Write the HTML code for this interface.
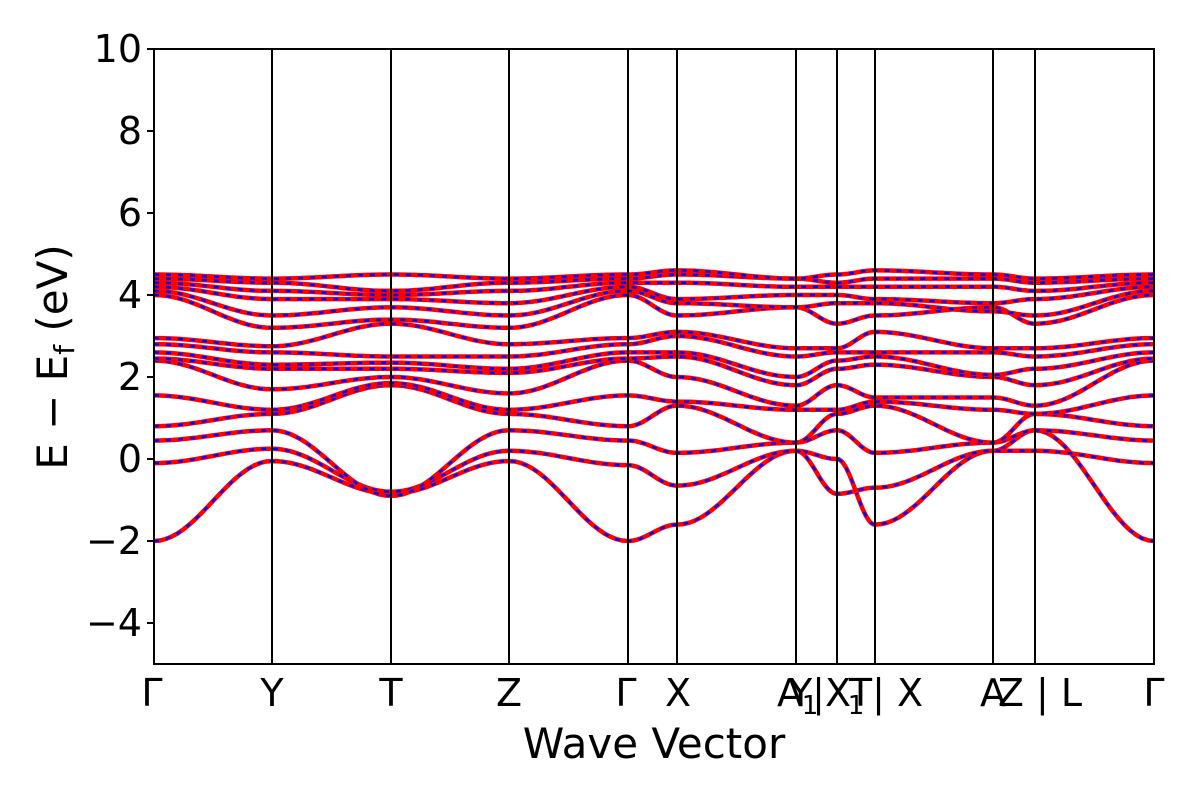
<!DOCTYPE html>
<html><head><meta charset="utf-8"><style>
body{margin:0;background:#fff}
svg{display:block}
text{font-family:"DejaVu Sans","Liberation Sans",sans-serif;fill:#000}
</style></head><body>
<svg id="s" width="1200" height="800" xmlns="http://www.w3.org/2000/svg">
<g id="bands"></g>
<g stroke="#000" stroke-width="2" fill="none">
<rect x="154" y="49" width="1000" height="615"/>
<line x1="272" y1="49" x2="272" y2="664"/>
<line x1="391" y1="49" x2="391" y2="664"/>
<line x1="509" y1="49" x2="509" y2="664"/>
<line x1="628" y1="49" x2="628" y2="664"/>
<line x1="677" y1="49" x2="677" y2="664"/>
<line x1="796" y1="49" x2="796" y2="664"/>
<line x1="837" y1="49" x2="837" y2="664"/>
<line x1="875" y1="49" x2="875" y2="664"/>
<line x1="993" y1="49" x2="993" y2="664"/>
<line x1="1035" y1="49" x2="1035" y2="664"/>
<line x1="147" y1="623" x2="154" y2="623"/>
<line x1="147" y1="541" x2="154" y2="541"/>
<line x1="147" y1="459" x2="154" y2="459"/>
<line x1="147" y1="377" x2="154" y2="377"/>
<line x1="147" y1="295" x2="154" y2="295"/>
<line x1="147" y1="213" x2="154" y2="213"/>
<line x1="147" y1="131" x2="154" y2="131"/>
<line x1="147" y1="49" x2="154" y2="49"/>
</g>
<g font-size="38" text-anchor="end">
<text x="142" y="636">−4</text>
<text x="142" y="554">−2</text>
<text x="142" y="472">0</text>
<text x="142" y="390">2</text>
<text x="142" y="308">4</text>
<text x="142" y="226">6</text>
<text x="142" y="144">8</text>
<text x="142" y="62">10</text>
</g>
<g font-size="38" text-anchor="middle">
<text x="152" y="706">Γ</text>
<text x="272" y="706">Y</text>
<text x="391" y="706">T</text>
<text x="509" y="706">Z</text>
<text x="626" y="706">Γ</text>
<text x="678" y="706">X</text>
<text x="790" y="706">A</text>
<text x="810" y="714" font-size="26">1</text>
<text x="820" y="706">Y|X</text>
<text x="856" y="714" font-size="26">1</text>
<text x="886" y="706">T| X</text>
<text x="993" y="706">A</text>
<text x="1040" y="706">Z | L</text>
<text x="1154" y="706">Γ</text>
<text x="654" y="758" font-size="42">Wave Vector</text>
</g>
<text transform="translate(67,357) rotate(-90)" font-size="42" text-anchor="middle">E − E<tspan font-size="28" dy="7">f</tspan><tspan dy="-7"> (eV)</tspan></text>
</svg>
<script>
var X=[154,272,391,509,628,677,796,837,875,993,1035,1154];
var B=[
[-2,-0.05,-0.85,-0.05,-2,-1.6,0.2,0.0,-1.6,0.2,0.7,-2],
[-0.1,0.25,-0.8,0.2,-0.15,-0.65,0.2,-0.85,-0.7,0.2,0.2,-0.1],
[0.45,0.7,-0.9,0.7,0.45,0.15,0.4,0.7,0.15,0.4,0.7,0.45],
[0.8,1.1,1.8,1.1,0.8,1.3,0.4,1.1,1.3,0.4,1.1,0.8],
[1.55,1.2,1.85,1.2,1.55,1.4,1.2,1.2,1.4,1.2,1.1,1.55],
[2.4,1.7,2.0,1.6,2.4,2.0,1.3,1.8,1.5,1.5,1.3,2.4],
[2.45,2.2,2.2,2.1,2.45,2.5,1.8,2.2,2.3,2.0,1.8,2.45],
[2.6,2.3,2.35,2.2,2.6,2.6,2.0,2.4,2.5,2.05,2.2,2.6],
[2.8,2.6,2.5,2.5,2.8,3.0,2.5,2.6,2.6,2.6,2.5,2.8],
[2.95,2.75,3.3,2.8,2.95,3.1,2.7,2.7,3.1,2.7,2.7,2.95],
[4.0,3.2,3.4,3.2,4.0,3.5,3.7,3.3,3.5,3.7,3.3,4.0],
[4.1,3.5,3.7,3.5,4.1,3.8,3.7,3.8,3.8,3.6,3.5,4.1],
[4.2,3.9,3.9,3.8,4.2,3.9,4.0,4.0,3.9,3.8,3.9,4.2],
[4.3,4.1,4.0,4.1,4.3,4.3,4.2,4.2,4.2,4.2,4.1,4.3],
[4.4,4.3,4.1,4.3,4.4,4.5,4.4,4.3,4.4,4.4,4.3,4.4],
[4.5,4.4,4.5,4.4,4.5,4.6,4.4,4.5,4.6,4.5,4.4,4.5]];
var g=document.getElementById('bands'),h='';
function Y(e){return 459-41*e;}
B.forEach(function(b){
 var d='';
 for(var i=0;i<11;i++){
  for(var k=0;k<=20;k++){
   var t=k/20,f=(1-Math.cos(Math.PI*t))/2;
   var x=X[i]+(X[i+1]-X[i])*t,e=b[i]+(b[i+1]-b[i])*f;
   d+=(d?'L':'M')+x.toFixed(1)+' '+Y(e).toFixed(1);
  }
 }
 h+='<path d="'+d+'" fill="none" stroke="#f00" stroke-width="4.5"/>';
 h+='<path d="'+d+'" fill="none" stroke="#00f" stroke-width="2.5" stroke-dasharray="5 7"/>';
});
g.innerHTML=h;
</script>
</body></html>
